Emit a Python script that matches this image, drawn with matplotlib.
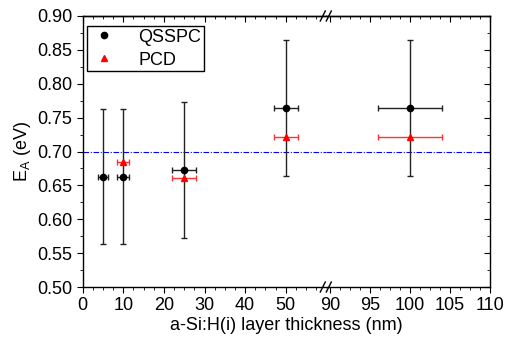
import matplotlib.pyplot as plt
from matplotlib.ticker import MultipleLocator, FixedLocator
from matplotlib.lines import Line2D

plt.rcParams['font.family'] = ['Liberation Sans', 'DejaVu Sans']
plt.rcParams['font.size'] = 13

# QSSPC data
thick_q = [5, 10, 25, 50, 100]
thick_q_err = [1.2, 1.5, 3, 3, 4]
ea_q = [0.663, 0.663, 0.673, 0.764, 0.764]
ea_q_err = [0.1, 0.1, 0.1, 0.1, 0.1]

# PCD data
thick_p = [10, 25, 50, 100]
thick_p_err = [1.5, 3, 3, 4]
ea_p = [0.685, 0.661, 0.722, 0.722]

ref_level = 0.70

W, H = 512, 351
fig = plt.figure(figsize=(W / 100, H / 100), dpi=100)

x0, x_brk, x1 = 82.7, 326.3, 490.0
y_top, y_bot = 16.0, 287.0
bottom = (H - y_bot) / H
height = (y_bot - y_top) / H
ax1 = fig.add_axes([x0 / W, bottom, (x_brk - x0) / W, height])
ax2 = fig.add_axes([x_brk / W, bottom, (x1 - x_brk) / W, height], sharey=ax1)

for ax in (ax1, ax2):
    ax.errorbar(thick_q, ea_q, yerr=ea_q_err, xerr=thick_q_err, fmt='o', color='black',
                ecolor='#222222', ms=4.5, lw=1, capsize=2, capthick=1, zorder=3)
    ax.errorbar(thick_p, ea_p, xerr=thick_p_err, fmt='^', color='red', ecolor='#ff3333',
                ms=5, lw=1, capsize=2, capthick=1, zorder=4)
    ax.axhline(ref_level, color='blue', lw=0.8, dashes=(5, 1.5, 1, 1.5), zorder=2)
    for s in ax.spines.values():
        s.set_linewidth(1)

ax1.set_xlim(0, 60)
ax2.set_xlim(89.5, 110)
ax1.set_ylim(0.50, 0.90)

ax1.spines['right'].set_visible(False)
ax2.spines['left'].set_visible(False)

# y ticks
ax1.yaxis.set_major_locator(MultipleLocator(0.05))
ax1.yaxis.set_minor_locator(MultipleLocator(0.025))
ax1.yaxis.set_major_formatter(plt.FormatStrFormatter('%.2f'))
ax1.tick_params(axis='y', which='both', direction='out', right=False)
ax1.tick_params(axis='y', which='major', length=4)
ax1.tick_params(axis='y', which='minor', length=2.5)
ax2.tick_params(axis='y', which='both', left=False, labelleft=False,
                right=True, direction='in')
ax2.tick_params(axis='y', which='major', length=4)
ax2.tick_params(axis='y', which='minor', length=2.5)

# x ticks
ax1.xaxis.set_major_locator(FixedLocator([0, 10, 20, 30, 40, 50]))
ax1.xaxis.set_minor_locator(FixedLocator([2.5, 5, 7.5, 12.5, 15, 17.5, 22.5, 25, 27.5,
                                          32.5, 35, 37.5, 42.5, 45, 47.5, 52.5, 55, 57.5]))
ax2.xaxis.set_major_locator(FixedLocator([90, 95, 100, 105, 110]))
ax2.xaxis.set_minor_locator(MultipleLocator(1.25))
for ax in (ax1, ax2):
    ax.tick_params(axis='x', which='both', direction='out', top=False)
    ax.tick_params(axis='x', which='major', length=4)
    ax.tick_params(axis='x', which='minor', length=2.5)
    sec = ax.secondary_xaxis('top')
    sec.xaxis.set_major_locator(ax.xaxis.get_major_locator())
    sec.xaxis.set_minor_locator(ax.xaxis.get_minor_locator())
    sec.tick_params(axis='x', which='both', direction='in', labeltop=False)
    sec.tick_params(axis='x', which='major', length=4)
    sec.tick_params(axis='x', which='minor', length=2.5)
    sec.spines['top'].set_linewidth(1)

ax1.set_ylabel('E$_\\mathregular{A}$ (eV)', labelpad=3)
fig.text((x0 + x1) / 2 / W, 1 - 326 / H, 'a-Si:H(i) layer thickness (nm)',
         ha='center', va='center', fontsize=13)

handles = [Line2D([], [], marker='o', ls='none', color='black', ms=4.5),
           Line2D([], [], marker='^', ls='none', color='red', ms=5)]
leg = ax1.legend(handles, ['QSSPC', 'PCD'], loc='upper left', fancybox=False,
                 edgecolor='black', framealpha=1, handletextpad=1.1, handlelength=1.6,
                 labelspacing=0.32, borderpad=0.15, borderaxespad=0,
                 bbox_to_anchor=(0.018, 0.963))
leg.get_frame().set_linewidth(1)

# break marks
for yb in (y_top, y_bot):
    for xs in (-6, 0):
        fig.add_artist(Line2D([(x_brk + xs) / W, (x_brk + xs + 5) / W],
                              [1 - (yb + 5) / H, 1 - (yb - 5) / H],
                              color='black', lw=1, transform=fig.transFigure))

fig.savefig('out.png', dpi=100)
